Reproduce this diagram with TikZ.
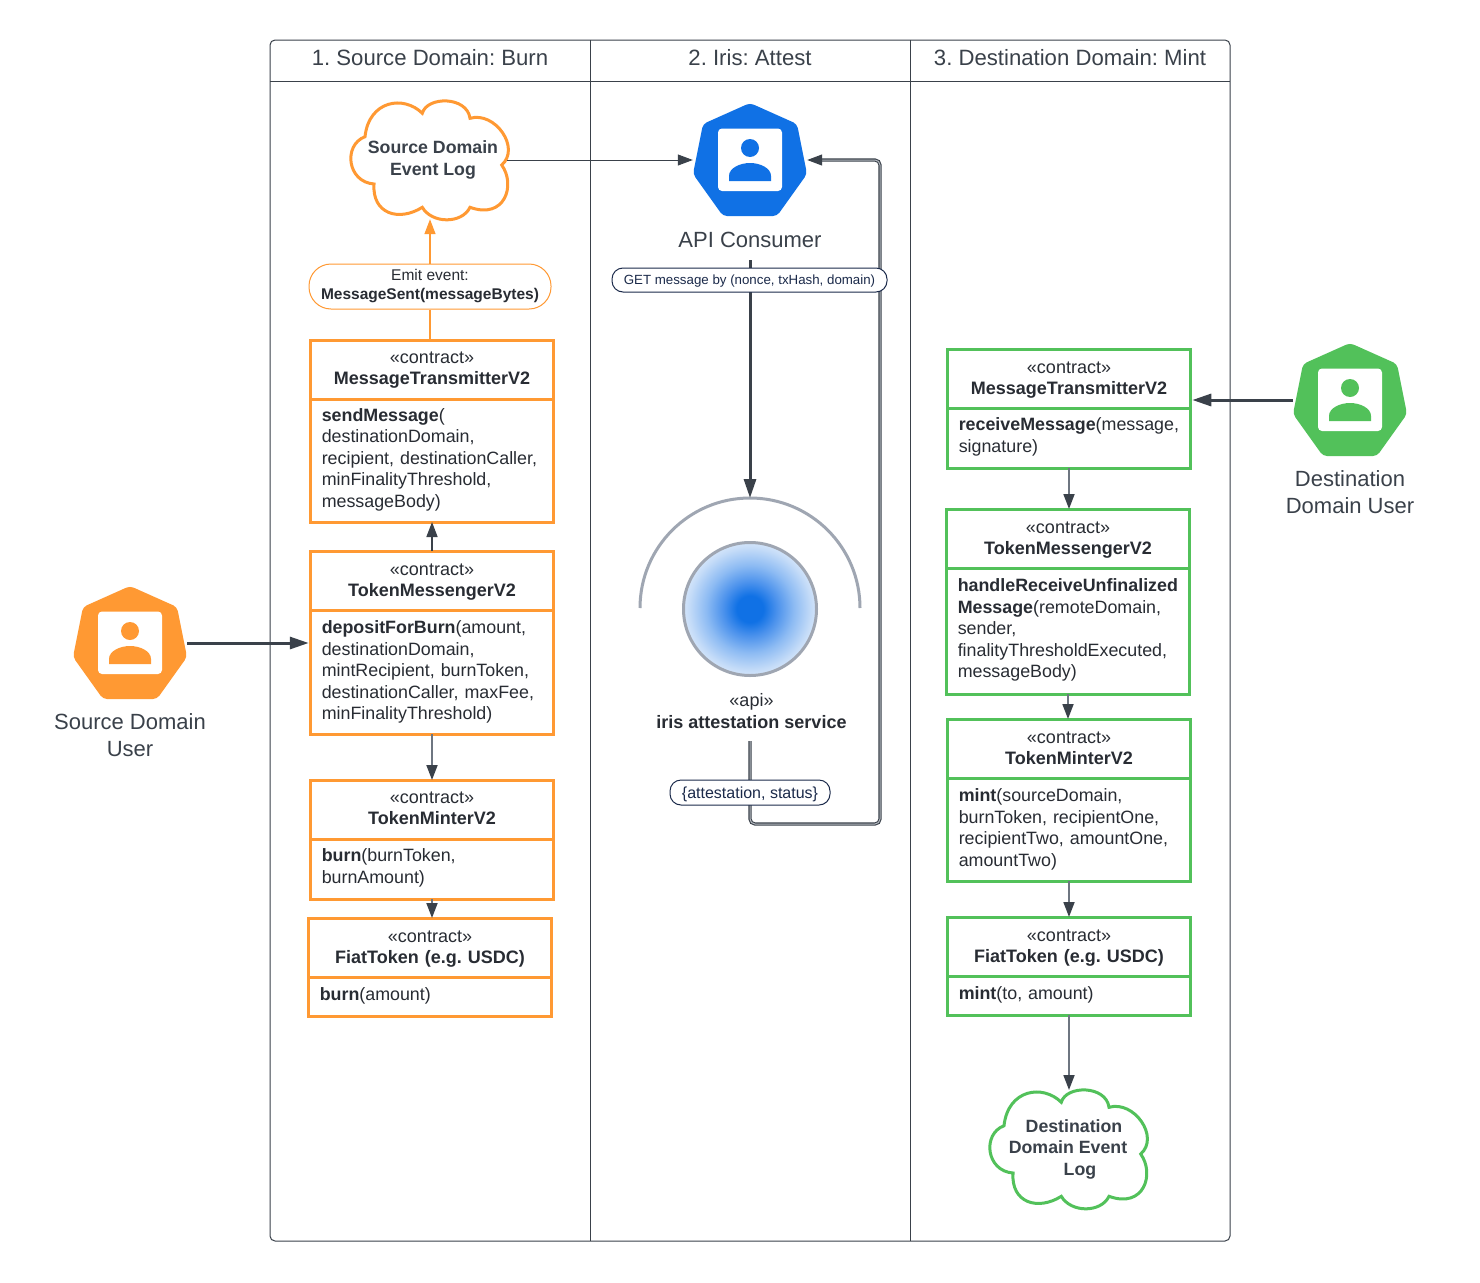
\documentclass[tikz,border=0pt]{standalone}
\usepackage{fontspec}
\setmainfont{Liberation Sans}
\newfontfamily\boxtextfont[WordSpace=0.6]{Liberation Sans}
\usetikzlibrary{positioning,arrows.meta}
\definecolor{slate}{HTML}{3A414A}
\definecolor{ink}{HTML}{282C33}
\definecolor{navy}{HTML}{1B2A4A}
\definecolor{linkgray}{HTML}{6E7681}
\definecolor{linkcore}{HTML}{B4B9C0}
\definecolor{srcorange}{HTML}{FF9933}
\definecolor{dstgreen}{HTML}{52C15A}
\definecolor{apiblue}{HTML}{1071E5}
\definecolor{irisgray}{HTML}{9FA6B2}
\definecolor{glowa}{HTML}{4A91EC}
\definecolor{glowb}{HTML}{8DBBF3}
\definecolor{glowc}{HTML}{C5DCF8}
\definecolor{glowpale}{HTML}{EEF5FE}
\pgfdeclareradialshading{irisglow}{\pgfpoint{0bp}{0bp}}{color(0bp)=(apiblue); color(5bp)=(apiblue); color(10bp)=(glowa); color(16.5bp)=(glowb); color(23bp)=(glowc); color(29bp)=(glowpale); color(50bp)=(glowpale)}
\newcommand{\usericon}[2]{%
  \begin{scope}[shift={(#1)}]
    \fill[#2, rounded corners=4] (0,-57) -- (47,-36) -- (57,14) -- (27,56) -- (-27,56) -- (-57,14) -- (-47,-36) -- cycle;
    \fill[white, rounded corners=4] (-32,-31.5) rectangle (32,31);
    \fill[#2] (0,-12) circle (9);
    \fill[#2] (-21,21) -- (-21,16) .. controls (-21,8) and (-10,3) .. (0,3) .. controls (10,3) and (21,8) .. (21,16) -- (21,21) -- cycle;
  \end{scope}}
\newcommand{\cloudline}[2]{%
  \draw[#2, line width=3, shift={(#1)}] (-6.7,-46.7) .. controls (-2,-64) and (38,-64) .. (41,-41.7)
    .. controls (66,-49) and (92,-12) .. (72.7,5)
    .. controls (87,25) and (76,60) .. (41,47.3)
    .. controls (33,64) and (3,64) .. (-6.7,47.3)
    .. controls (-30,62) and (-57,54) .. (-55,24)
    .. controls (-82,22) and (-86,-15) .. (-64,-23.3)
    .. controls (-60,-60) and (-25,-65) .. cycle;}
\begin{document}
\frenchspacing
\begin{tikzpicture}[x=1pt,y=-1pt]
  \tikzstyle{lanetitle}=[text=slate, font=\fontsize{22.15}{27}\selectfont]
  \tikzstyle{userlabel}=[text=slate, align=center, font=\fontsize{22}{27}\selectfont]
  \tikzstyle{userspot}=[minimum width=114, minimum height=114, inner sep=0]
  \tikzstyle{boxhead}=[rectangle, draw, line width=3, outer sep=0, inner xsep=11, inner ysep=2, text width=220.5, align=center, minimum height=59, text=ink, font=\fontsize{18}{21.5}\selectfont]
  \tikzstyle{boxbody}=[boxhead, align=left, below=0pt of #1, font=\boxtextfont\fontsize{17.85}{21.5}\selectfont]
  \tikzstyle{lifted}=[execute at end node={\vspace{2pt}}]
  \tikzstyle{lowered}=[execute at begin node={\rule{0pt}{15pt}}]
  \tikzstyle{logtext}=[text=slate, align=center, minimum width=148, minimum height=118, inner sep=0, font=\bfseries\fontsize{17.75}{21.5}\selectfont]
  \tikzstyle{pill}=[rectangle, rounded corners=11, draw=navy, fill=white, line width=1, text=navy, inner sep=0]
  \tikzstyle{darklink}=[slate, line width=1.6, -{Triangle[length=15pt,width=11pt]}]
  \tikzstyle{thinlink}=[linkgray, line width=1.8, -{Triangle[length=15pt,width=11pt,color=slate]}]
  \tikzstyle{heavylink}=[slate, line width=3, -{Triangle[length=19pt,width=12pt]}]
  \tikzstyle{doublelink}=[slate, line width=1.1, double=linkcore, double distance=1, -{Triangle[length=15pt,width=11pt]}]
  \useasboundingbox (0,0) rectangle (1480,1282);
  \fill[white] (0,0) rectangle (1480,1282);

  \draw[slate, line width=1, rounded corners=5] (270,40) rectangle (1230,1241);
  \draw[slate, line width=1] (270,81) -- (1230,81);
  \draw[slate, line width=1] (590,40) -- (590,1241);
  \draw[slate, line width=1] (910,40) -- (910,1241);
  \node[lanetitle] (laneburn) at (430,58) {1. Source Domain: Burn};
  \node[lanetitle] (laneattest) at (750,58) {2. Iris: Attest};
  \node[lanetitle] (lanemint) at (1070,58) {3. Destination Domain: Mint};

  \usericon{130,643}{srcorange}
  \usericon{750,160}{apiblue}
  \usericon{1350,400}{dstgreen}
  \node[userspot] (srcuser) at (130,643) {};
  \node[userspot] (apiuser) at (750,160) {};
  \node[userspot] (dstuser) at (1350,400) {};
  \node[userlabel] (srcuserlabel) at (130,735.5) {Source Domain\\User};
  \node[userlabel, minimum height=40] (apilabel) at (750,240) {API Consumer};
  \node[userlabel] (dstuserlabel) at (1350,492.5) {Destination\\Domain User};

  \cloudline{429,160}{srcorange}
  \cloudline{1068,1149}{dstgreen}
  \node[logtext] (srclog) at (433,160) {Source Domain\\Event Log};
  \node[logtext] (dstlog) at (1068,1149) {\hspace*{12pt}Destination\\Domain Event\\\hspace*{24pt}Log};

  \node[boxhead, draw=srcorange] (srcmsghead) at (432,370) {«contract»\\\textbf{MessageTransmitterV2}};
  \node[boxbody=srcmsghead, lifted, draw=srcorange, minimum height=122.5] (srcmsgbody) {\textbf{sendMessage}(\\destinationDomain,\\recipient, destinationCaller,\\minFinalityThreshold,\\messageBody)};
  \node[boxhead, lowered, draw=srcorange] (srctokhead) at (432,580.5) {«contract»\\\textbf{TokenMessengerV2}};
  \node[boxbody=srctokhead, draw=srcorange, minimum height=124] (srctokbody) {\textbf{depositForBurn}(amount,\\destinationDomain,\\mintRecipient, burnToken,\\destinationCaller, maxFee,\\minFinalityThreshold)};
  \node[boxhead, lifted, draw=srcorange] (srcminthead) at (432,809.5) {«contract»\\\textbf{TokenMinterV2}};
  \node[boxbody=srcminthead, lifted, draw=srcorange, minimum height=60] (srcmintbody) {\textbf{burn}(burnToken,\\burnAmount)};
  \node[boxhead, lowered, draw=srcorange] (srcfiathead) at (430,947.5) {«contract»\\\textbf{FiatToken (e.g. USDC)}};
  \node[boxbody=srcfiathead, lifted, draw=srcorange, minimum height=39] (srcfiatbody) {\textbf{burn}(amount)};

  \node[boxhead, lowered, draw=dstgreen] (dstmsghead) at (1069,378.5) {«contract»\\\textbf{MessageTransmitterV2}};
  \node[boxbody=dstmsghead, lifted, draw=dstgreen, minimum height=60] (dstmsgbody) {\textbf{receiveMessage}(message,\\signature)};
  \node[boxhead, lowered, draw=dstgreen] (dsttokhead) at (1068,538.5) {«contract»\\\textbf{TokenMessengerV2}};
  \node[boxbody=dsttokhead, lifted, draw=dstgreen, minimum height=126] (dsttokbody) {\textbf{handleReceiveUnfinalized}\\\textbf{Message}(remoteDomain,\\sender,\\finalityThresholdExecuted,\\messageBody)};
  \node[boxhead, draw=dstgreen] (dstminthead) at (1069,748.5) {«contract»\\\textbf{TokenMinterV2}};
  \node[boxbody=dstminthead, draw=dstgreen, minimum height=103] (dstmintbody) {\textbf{mint}(sourceDomain,\\burnToken, recipientOne,\\recipientTwo, amountOne,\\amountTwo)};
  \node[boxhead, lowered, draw=dstgreen] (dstfiathead) at (1069,946.5) {«contract»\\\textbf{FiatToken (e.g. USDC)}};
  \node[boxbody=dstfiathead, lifted, draw=dstgreen, minimum height=39] (dstfiatbody) {\textbf{mint}(to, amount)};

  \node[circle, draw=irisgray, line width=3, minimum size=133, inner sep=0, shading=irisglow] (iriscore) at (750,609) {};
  \draw[irisgray, line width=3] (640,608) arc[start angle=180, end angle=0, radius=110, y radius=-110];
  \coordinate (iristop) at (750,498);
  \node[align=center, minimum height=60, inner sep=0, text=ink, font=\fontsize{18}{21.5}\selectfont] (irislabel) at (751.5,711) {«api»\\\textbf{iris attestation service}};
  \coordinate (retcorner) at (880,824);

  \node[rectangle, rounded corners=22, draw=srcorange, fill=white, line width=1, minimum width=242, minimum height=45, inner sep=0, align=center, text=ink, font=\fontsize{15.5}{19}\selectfont] (emitevent) at (430,286.5) {Emit event:\\\textbf{MessageSent(messageBytes)}};
  \draw[srcorange, line width=1.5] (srcmsghead.north -| emitevent.south) -- (emitevent.south);
  \draw[srcorange, line width=1.5, -{Triangle[length=15pt,width=11pt]}] (emitevent.north) -- (emitevent.north |- srclog.south);

  \draw[slate, line width=1, -{Triangle[length=15pt,width=11pt]}] (srclog.east |- apiuser.west) -- (apiuser.west);
  \draw[heavylink] (apilabel.south) -- (iristop);
  \draw[doublelink, rounded corners=5] (irislabel.south -| apiuser.south) |- (retcorner) |- (apiuser.east);
  \node[pill, minimum width=275, minimum height=24, text height=11.5, text depth=2.6, font=\fontsize{13.3}{16}\selectfont] (getpill) at (749.5,280) {GET message by (nonce, txHash, domain)};
  \node[pill, minimum width=160, minimum height=25, text height=14, text depth=2.8, font=\fontsize{16}{18}\selectfont] (statuspill) at (750,792.5) {\{attestation, status\}};

  \draw[heavylink, shorten >=2] (srcuser.east) -- (srcuser.east -| srctokbody.west);
  \draw[heavylink, shorten >=2] (dstuser.west) -- (dstuser.west -| dstmsghead.east);

  \draw[darklink] (srctokhead.north) -- (srcmsgbody.south);
  \draw[thinlink] (srctokbody.south) -- (srcminthead.north);
  \draw[thinlink] (srcmintbody.south) -- (srcmintbody.south |- srcfiathead.north);

  \draw[thinlink] (dstmsgbody.south) -- (dstmsgbody.south |- dsttokhead.north);
  \draw[thinlink] (dsttokbody.south) -- (dsttokbody.south |- dstminthead.north);
  \draw[thinlink] (dstmintbody.south) -- (dstfiathead.north);
  \coordinate (dstlogtop) at (1069,1090);
  \draw[thinlink] (dstfiatbody.south) -- (dstlogtop);
\end{tikzpicture}
\end{document}
